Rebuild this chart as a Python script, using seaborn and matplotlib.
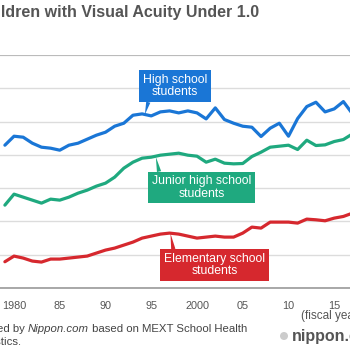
import pandas as pd
import matplotlib
matplotlib.use("Agg")
import matplotlib.pyplot as plt
import matplotlib.patches as mpatches
import seaborn as sns

years = list(range(1979, 2018))
high_school = [
    52.9, 55.6, 55.3, 53.5, 52.3, 52.0, 51.4, 52.9, 53.5, 54.7, 55.9, 56.8,
    58.6, 59.5, 61.9, 62.3, 61.7, 62.9, 63.2, 62.6, 63.2, 62.6,
    60.8, 64.1, 60.6, 59.5, 58.6, 58.3, 55.5, 58.0, 59.5, 55.6,
    60.9, 64.5, 65.8, 62.9, 63.8, 66.0, 62.3,
]
junior_high = [
    34.9, 38.2, 37.3, 36.4, 35.5, 36.7, 36.4, 37.3, 38.5, 39.4, 40.6, 41.5,
    43.3, 46.0, 47.8, 49.0, 49.3, 49.9, 50.2, 50.5, 49.9, 49.6,
    47.8, 48.7, 47.5, 47.3, 47.4, 49.5, 50.8, 52.3, 52.6, 52.9,
    51.6, 54.4, 52.8, 53.0, 54.0, 54.6, 56.3,
]
elementary = [
    17.9, 19.6, 19.0, 18.1, 17.8, 18.7, 18.7, 19.0, 19.3, 19.6, 20.5, 21.4,
    22.0, 22.9, 23.8, 25.0, 25.6, 26.2, 26.5, 26.2, 25.6, 25.0,
    25.3, 25.6, 25.3, 25.3, 26.5, 28.3, 28.0, 29.8, 29.8, 29.8,
    29.5, 30.7, 30.5, 30.2, 31.0, 31.5, 32.5,
]

groups = ["High school\nstudents", "Junior high school\nstudents", "Elementary school\nstudents"]
colors = ["#1a76d6", "#1fa97f", "#d6282e"]

tick_years = [1980, 1985, 1990, 1995, 2000, 2005, 2010, 2015]
tick_labels = ["1980", "85", "90", "95", "2000", "05", "10", "15"]
grid_values = [10, 20, 30, 40, 50, 60, 70, 80]

df = pd.DataFrame({
    "year": years * 3,
    "value": high_school + junior_high + elementary,
    "group": [groups[0]] * len(years) + [groups[1]] * len(years) + [groups[2]] * len(years),
})

sns.set_theme(style="white")
plt.rcParams["font.family"] = ["Liberation Sans", "DejaVu Sans"]

fig = plt.figure(figsize=(3.5, 3.5), dpi=100)
ax = fig.add_axes([-0.1, 0.177, 1.2, 0.666])

ax.set_yticks(grid_values)
ax.yaxis.grid(True, color="#dcdcdc", linewidth=1)
ax.set_axisbelow(True)
ax.axhline(80, color="#b5b5b5", linewidth=1.2, zorder=1)

sns.lineplot(data=df, x="year", y="value", hue="group",
             palette=dict(zip(groups, colors)), linewidth=2.3,
             legend=False, ax=ax, zorder=3)

ax.set_xlim(1974.64, 2020.55)
ax.set_ylim(10, 80)
ax.set_xticks(tick_years, tick_labels)
ax.set_yticklabels([])
ax.tick_params(axis="x", bottom=False, labelsize=7.8, labelcolor="#555555", pad=3)
ax.tick_params(axis="y", left=False)
ax.set_xlabel("")
ax.set_ylabel("")
for side in ["top", "left", "right"]:
    ax.spines[side].set_visible(False)
ax.spines["bottom"].set_color("#9a9a9a")
ax.spines["bottom"].set_linewidth(1.2)

# callout labels
labels = [
    (groups[0], (1994.3, 62.1), (1997.6, 70.6), (0.1, 0.0)),
    (groups[1], (1995.5, 49.4), (2000.5, 40.2), (0.08, 1.0)),
    (groups[2], (1997.1, 26.4), (2001.9, 16.9), (0.1, 1.0)),
]
for (text, xy, xytext, rel), color in zip(labels, colors):
    ax.annotate(text, xy=xy, xytext=xytext, ha="center", va="center",
                fontsize=8.8, color="white", linespacing=1.05, zorder=5,
                bbox=dict(boxstyle="square,pad=0.3", fc=color, ec="none"),
                arrowprops=dict(arrowstyle="wedge,tail_width=0.35,shrink_factor=0.5",
                                fc=color, ec="none", relpos=rel,
                                shrinkA=0, shrinkB=0))

fig.text(-25 / 350, 1 - 12 / 350, "Children with Visual Acuity Under 1.0",
         fontsize=11.5, fontweight="bold", color="#555555", va="center")

fig.text(301 / 350, 1 - 316 / 350, "(fiscal year)", fontsize=8.5, color="#555555", va="center")

# source note, pieces laid out one after another
renderer = fig.canvas.get_renderer()
x_pos = -31
for piece, style in [("Created by ", "normal"), ("Nippon.com", "italic"),
                     (" based on MEXT School Health", "normal")]:
    t = fig.text(x_pos / 350, 1 - 329 / 350, piece, fontsize=8.2, color="#444444",
                 va="center", style=style)
    x_pos += t.get_window_extent(renderer).width
fig.text(-28 / 350, 1 - 342 / 350, "Statistics.", fontsize=8.2, color="#444444", va="center")

fig.add_artist(mpatches.Circle((284 / 350, 1 - 336 / 350), radius=4 / 350,
                               transform=fig.transFigure, fc="#cccccc", ec="none"))
fig.text(292 / 350, 1 - 336 / 350, "nippon.com", fontsize=11.5, color="#555555",
         va="center", fontweight="bold")

fig.savefig("out.png", dpi=100)
